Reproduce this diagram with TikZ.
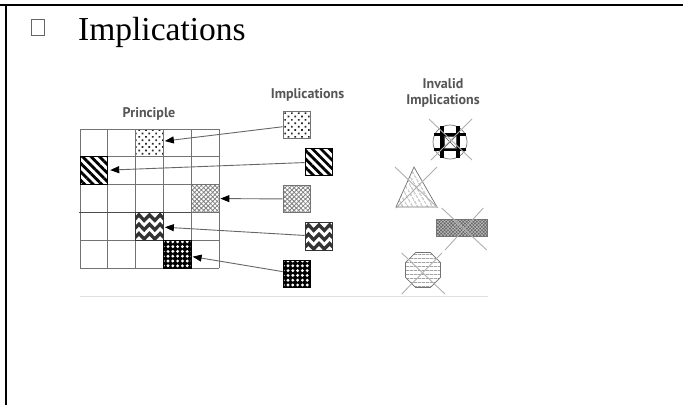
\documentclass[tikz,border=0pt]{standalone}
\usepackage{fontspec}
\setmainfont{Liberation Serif}
\newfontfamily\headfont{PT Sans}
\usetikzlibrary{arrows.meta,patterns.meta,shapes.geometric,calc}
\definecolor{grid_gray}{RGB}{115, 115, 115}
\definecolor{label_gray}{RGB}{85, 85, 85}
\definecolor{cross_gray}{RGB}{175, 175, 175}
\tikzstyle{sq}=[rectangle,draw=grid_gray,line width=0.9pt,inner sep=0pt,
  minimum size=27.8pt]
\tikzstyle{dotsq}=[sq,pattern={Dots[distance=4.8pt,radius=1.2pt,angle=45]},
  pattern color=black!85]
\tikzstyle{stripesq}=[sq,draw=black,
  pattern={Lines[angle=-45,distance=6pt,line width=2.8pt]},pattern color=black]
\tikzstyle{weavesq}=[sq,pattern={Hatch[angle=45,distance=3.2pt,line width=0.8pt]},
  pattern color=black!50]
\tikzstyle{zigsq}=[sq,draw=black!80,path picture={
  \foreach \k in {0,1,2}
    \draw[line width=3.3pt,line join=miter]
      ($(path picture bounding box.north west)+(-2,{8+9.3*\k})$)
      \foreach \j in {1,2,3} { -- ++(5.3,-5.5) -- ++(5.3,5.5) };}]
\tikzstyle{checksq}=[sq,draw=black,preaction={fill=black},
  pattern={Dots[distance=4.8pt,radius=1.6pt]},pattern color=white]
\tikzstyle{impl}=[draw=black!60,line width=0.9pt,shorten >=1pt,
  -{Triangle[length=9pt,width=7pt,color=black]}]
\tikzstyle{head}=[font=\headfont\bfseries\fontsize{14}{15.5}\selectfont,
  text=label_gray,align=center,inner sep=0pt]
\tikzstyle{badshape}=[draw=black!55,line width=0.7pt,inner sep=0pt]
\tikzstyle{nope}=[draw=cross_gray,line width=0.9pt]

\begin{document}
\begin{tikzpicture}[x=1pt,y=-1pt]
    \useasboundingbox (0,0) rectangle (683,405);
    % page rules and heading
    \draw [line width=2.3pt] (0,5) to (683,5);
    \draw [line width=2.3pt] (6,5) to (6,405);
    \node [draw=black!60,line width=0.8pt,minimum width=13pt,minimum height=16pt,
      inner sep=0pt] (box) at (37.5,27) {};
    \node [anchor=base west,inner sep=0pt,font=\fontsize{33.5}{40}\selectfont]
      (title) at (78,40) {Implications};
    % principle grid
    \foreach \i in {0,...,5} {
        \draw [grid_gray,line width=0.9pt] ({80+27.8*\i},129) to ({80+27.8*\i},268);
        \draw [grid_gray,line width=0.9pt] (80,{129+27.8*\i}) to (219,{129+27.8*\i});
    }
    \draw [black!70,line width=1.1pt] (78.5,212.4) to (219,212.4);
    \node [style=head] (principle) at (149,114) {Principle};
    \node [style=dotsq] (c1) at (149.5, 142.9) {};
    \node [style=stripesq] (c2) at (93.9, 170.7) {};
    \node [style=weavesq] (c3) at (205.1, 198.5) {};
    \node [style=zigsq] (c4) at (149.5, 226.3) {};
    \node [style=checksq] (c5) at (177.3, 254.1) {};
    % implications
    \node [style=head] (implied) at (307.5,95) {Implications};
    \node [style=dotsq] (s1) at (297, 125) {};
    \node [style=stripesq] (s2) at (319, 162) {};
    \node [style=weavesq] (s3) at (297, 199) {};
    \node [style=zigsq] (s4) at (319, 236.3) {};
    \node [style=checksq] (s5) at (297, 274) {};
    \draw [style=impl] (s1) to (c1);
    \draw [style=impl] (s2) to (c2);
    \draw [style=impl] (s3) to (c3);
    \draw [style=impl] (s4) to (c4);
    \draw [style=impl] (s5) to (c5);
    % invalid implications
    \node [style=head] (invalid) at (443,93) {Invalid\\Implications};
    \node [style=badshape,circle,minimum size=34pt] (inv1) at (450,142) {};
    \draw [line width=3.6pt] ($(inv1)+(-8,-16)$) to ($(inv1)+(-8,16)$);
    \draw [line width=3.6pt] ($(inv1)+(8,-16)$) to ($(inv1)+(8,16)$);
    \draw [line width=3.6pt] ($(inv1)+(-16,-7.5)$) to ($(inv1)+(16,-7.5)$);
    \draw [line width=3.6pt] ($(inv1)+(-16,7.5)$) to ($(inv1)+(16,7.5)$);
    \draw [black!70,line width=0.6pt] ($(inv1)+(-6,-6)$) rectangle ($(inv1)+(6,6)$);
    \draw [black!70,line width=0.6pt] ($(inv1)+(-6,-6)$) to ($(inv1)+(6,6)$);
    \draw [black!70,line width=0.6pt] ($(inv1)+(6,-6)$) to ($(inv1)+(-6,6)$);
    \draw [style=nope] ($(inv1)+(-21,-23)$) to ($(inv1)+(22,18)$);
    \draw [style=nope] ($(inv1)+(22,-23)$) to ($(inv1)+(-19,18)$);
    \coordinate (tri) at (416,190);
    \draw [style=badshape,pattern={Lines[angle=-60,distance=4pt,line width=0.6pt]},
      pattern color=black!55] ($(tri)+(-2,-23)$) -- ($(tri)+(-20,17)$)
      -- ($(tri)+(21,17)$) -- cycle;
    \draw [style=nope] ($(tri)+(-21,-23)$) to ($(tri)+(22,18)$);
    \draw [style=nope] ($(tri)+(21,-23)$) to ($(tri)+(-20,18)$);
    \node [style=badshape,rectangle,minimum width=51pt,minimum height=17pt,
      preaction={fill=black!60},pattern={Hatch[angle=45,distance=2.4pt,line width=0.5pt]},
      pattern color=black!25] (inv3) at (462.3,228.3) {};
    \draw [style=nope] ($(inv3)+(-20.6,-20.3)$) to ($(inv3)+(24.4,21.7)$);
    \draw [style=nope] ($(inv3)+(21,-20.3)$) to ($(inv3)+(-17.3,21.7)$);
    \node [style=badshape,regular polygon,regular polygon sides=8,minimum size=38pt,
      pattern={Lines[angle=0,distance=4pt,line width=0.6pt]},pattern color=black!55]
      (inv4) at (423,270) {};
    \draw [style=nope] ($(inv4)+(-21.3,-17)$) to ($(inv4)+(22,24)$);
    \draw [style=nope] ($(inv4)+(19,-17)$) to ($(inv4)+(-21.3,24)$);
    \draw [black!12,line width=0.8pt] (80,296) to (488,296);
\end{tikzpicture}
\end{document}
